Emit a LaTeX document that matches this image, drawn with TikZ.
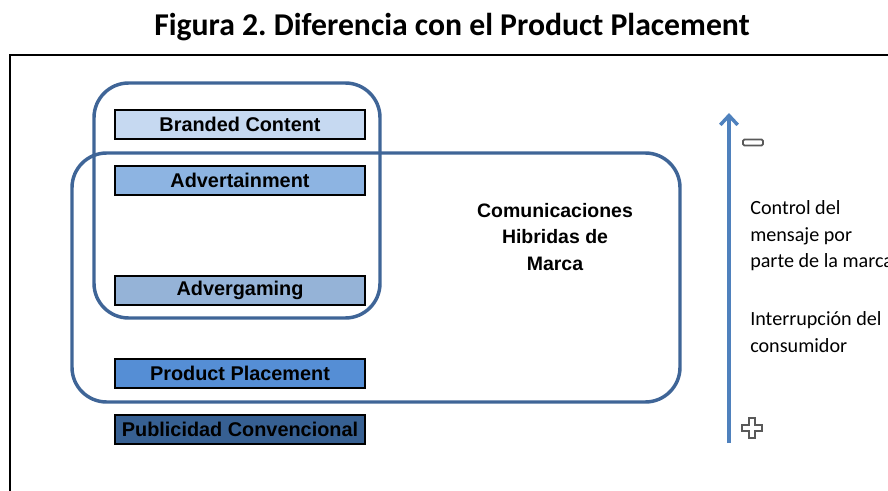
\documentclass[tikz,border=0pt]{standalone}
\usepackage{fontspec}
\setmainfont{Carlito}
\newfontfamily\arialfont{Liberation Sans}
\usepackage{tikz}
\usetikzlibrary{arrows.meta}

\definecolor{groupline}{HTML}{3F6597}
\definecolor{arrowblue}{HTML}{4F81BD}
\definecolor{brandfill}{HTML}{C6D9F1}
\definecolor{advertfill}{HTML}{8DB4E2}
\definecolor{gamefill}{HTML}{95B3D7}
\definecolor{placefill}{HTML}{558ED5}
\definecolor{pubfill}{HTML}{376092}

\tikzset{
	bar/.style={draw=black,line width=1.6pt,minimum width=187.5pt,minimum height=21.75pt,inner sep=0pt,
		font=\arialfont\bfseries\fontsize{14.9}{17}\selectfont},
	group/.style={draw=groupline,line width=2.6pt,rounded corners=26pt},
	sign/.style={draw=gray!70!black,fill=white,line width=1.3pt},
	side/.style={anchor=base west,align=left,inner sep=0pt,font=\fontsize{15.1}{20}\selectfont}
}

\begin{document}
\begin{tikzpicture}[x=0.75pt,y=-0.75pt]
	\useasboundingbox (0,0) rectangle (888,491);
	% title and frame
	\node (title) at (452,27) {\fontsize{23.8}{28}\selectfont\bfseries\frenchspacing Figura 2. Diferencia con el Product Placement};
	\draw[line width=1.5pt] (10,520) -- (10,55) -- (920,55);
	% grouping outlines
	\draw[group] (94,83) rectangle (380,318);
	\draw[group] (72,153) rectangle (680,402);
	% the bars
	\node[bar,fill=brandfill] (branded) at (240,124.5) {Branded Content};
	\node[bar,fill=advertfill] (advert) at (240,180.5) {Advertainment};
	\node[bar,fill=gamefill] (advergame) at (240,290.5) {Advergaming};
	\node[bar,fill=placefill] (placement) at (240,373.5) {Product Placement};
	\node[bar,fill=pubfill] (publicidad) at (240,429.5) {Publicidad Convencional};
	\node[align=center,font=\arialfont\bfseries\fontsize{14.6}{20}\selectfont] (hybrid) at (555,237) {Comunicaciones\\Hibridas de\\Marca};
	% scale on the right
	\coordinate (low) at (729,443);
	\coordinate (high) at (729,113);
	\draw[arrowblue,line width=2.6pt,-{Straight Barb[length=7pt,width=13pt]}] (low) -- (high);
	\draw[sign,rounded corners=1pt] (743,139.5) rectangle (763,145.5);
	\draw[sign,shift={(752,428)}] (-3,-10) -- (3,-10) -- (3,-3) -- (10,-3) -- (10,3) -- (3,3) -- (3,10) -- (-3,10) -- (-3,3) -- (-10,3) -- (-10,-3) -- (-3,-3) -- cycle;
	\node[side] (ctrltxt) at (750,268) {Control del\\mensaje por\\parte de la marca};
	\node[side] (interrup) at (750,352) {Interrupción del\\consumidor};
\end{tikzpicture}
\end{document}
